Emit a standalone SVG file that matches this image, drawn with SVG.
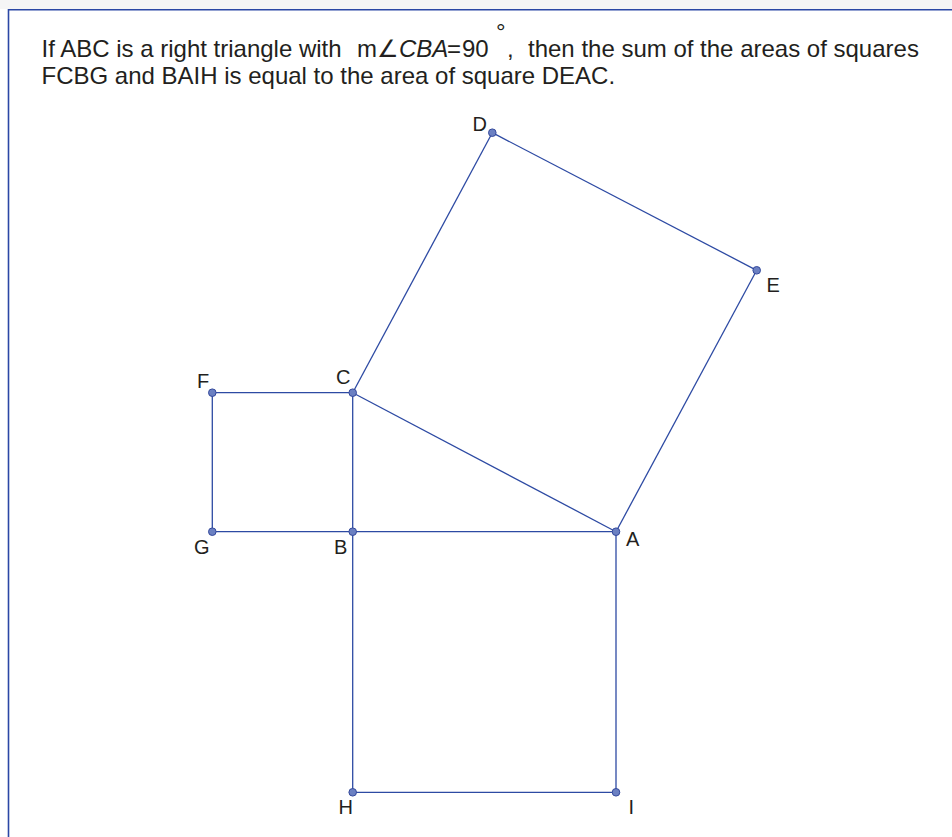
<svg xmlns="http://www.w3.org/2000/svg" width="952" height="837" viewBox="0 0 952 837">
<style>
.t{font-family:"Liberation Sans",Arial,sans-serif;font-size:24px;fill:#231f20}
.lbl{font-family:"Liberation Sans",Arial,sans-serif;font-size:20px;fill:#231f20}
.seg{stroke:#2d4aa3;stroke-width:1.3;fill:none}
.pt{fill:#6b80c2;stroke:#34499c;stroke-width:1}
</style>
<rect x="0" y="0" width="952" height="837" fill="#ffffff"/>
<rect x="0" y="0" width="952" height="9" fill="#f5f5f6"/>
<g id="frame">
<path d="M8.5,837 V9.7 H952" fill="none" stroke="#2b47a5" stroke-width="1.6"/>
</g>
<g id="caption">
<text class="t" x="41.5" y="57">If ABC is a right triangle with</text>
<text class="t" x="357" y="57">m∠<tspan font-style="italic">CBA</tspan></text>
<text class="t" x="447" y="57">=</text>
<text class="t" x="462" y="57">90</text>
<text class="t" x="496" y="40" font-size="14">°</text>
<text class="t" x="507" y="57">,</text>
<text class="t" x="528" y="57">then the sum of the areas of squares</text>
<text class="t" x="41.5" y="84">FCBG and BAIH is equal to the area of square DEAC.</text>
</g>
<g id="connectors">
<line class="seg" x1="212.3" y1="392.7" x2="352.7" y2="392.7"/>
<line class="seg" x1="212.3" y1="392.7" x2="212.3" y2="531.7"/>
<line class="seg" x1="212.3" y1="531.7" x2="616" y2="531.7"/>
<line class="seg" x1="352.7" y1="392.7" x2="352.7" y2="792.3"/>
<line class="seg" x1="352.7" y1="792.3" x2="616" y2="792.3"/>
<line class="seg" x1="616" y1="531.7" x2="616" y2="792.3"/>
<line class="seg" x1="352.7" y1="392.7" x2="616" y2="531.7"/>
<line class="seg" x1="352.7" y1="392.7" x2="492.3" y2="132.7"/>
<line class="seg" x1="492.3" y1="132.7" x2="756.7" y2="270.3"/>
<line class="seg" x1="756.7" y1="270.3" x2="616" y2="531.7"/>
</g>
<g id="node-D"><circle class="pt" cx="492.3" cy="132.7" r="3.8"/><text class="lbl" x="472.5" y="131">D</text></g>
<g id="node-E"><circle class="pt" cx="756.7" cy="270.3" r="3.8"/><text class="lbl" x="766.5" y="292">E</text></g>
<g id="node-F"><circle class="pt" cx="212.3" cy="392.7" r="3.8"/><text class="lbl" x="197" y="387.5">F</text></g>
<g id="node-C"><circle class="pt" cx="352.7" cy="392.7" r="3.8"/><text class="lbl" x="336" y="383.5">C</text></g>
<g id="node-G"><circle class="pt" cx="212.3" cy="531.7" r="3.8"/><text class="lbl" x="194" y="553.5">G</text></g>
<g id="node-B"><circle class="pt" cx="352.7" cy="531.7" r="3.8"/><text class="lbl" x="334" y="553.5">B</text></g>
<g id="node-A"><circle class="pt" cx="616" cy="531.7" r="3.8"/><text class="lbl" x="626" y="546">A</text></g>
<g id="node-H"><circle class="pt" cx="352.7" cy="792.3" r="3.8"/><text class="lbl" x="338.5" y="813.5">H</text></g>
<g id="node-I"><circle class="pt" cx="616" cy="792.3" r="3.8"/><text class="lbl" x="628.5" y="813.5">I</text></g>
</svg>
